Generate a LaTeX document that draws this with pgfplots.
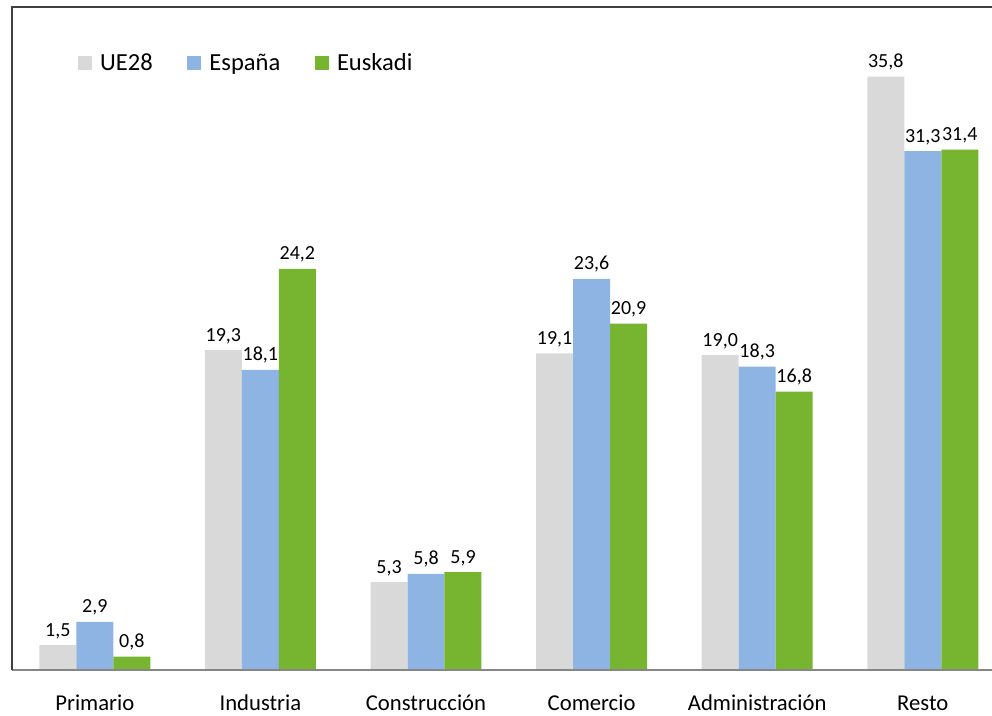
\documentclass[border=0pt]{standalone}
\usepackage{fontspec}
\setmainfont{Carlito}
\usepackage{pgfplots}
\pgfplotsset{compat=1.18}
\definecolor{cgray}{HTML}{D9D9D9}
\definecolor{cblue}{HTML}{8DB4E2}
\definecolor{cgreen}{HTML}{77B531}
\definecolor{cframe}{HTML}{404040}
\definecolor{caxis}{HTML}{868686}
\begin{document}
\begin{tikzpicture}
\begin{axis}[
  scale only axis, width=735pt, height=497.25pt,
  xmin=-0.5, xmax=5.418, ymin=0, ymax=40,
  clip=false,
  axis line style={draw=none},
  ytick=\empty,
  xtick={0,1,2,3,4,5},
  xticklabels={Primario,Industria,Construcción,Comercio,Administración,Resto},
  major tick length=0pt,
  xticklabel style={font=\fontsize{17}{20}\selectfont, inner sep=0pt, anchor=north, text height=12pt, text depth=3pt, yshift=-18.5pt},
  ybar, bar width=0.2234,
  /pgf/number format/use comma,
  /pgf/number format/fixed,
  /pgf/number format/fixed zerofill,
  /pgf/number format/precision=1,
  /pgf/number format/assume math mode=true,
  nodes near coords,
  nodes near coords style={font=\fontsize{15}{18}\selectfont, anchor=base, inner sep=0pt, yshift=6.75pt, text=black},
  legend style={at={(0.0673,0.9155)}, anchor=west, draw=none, fill=none, inner sep=0pt,
    font=\fontsize{18.4}{22}\selectfont, nodes={inner sep=0pt},
    /tikz/every odd column/.append style={column sep=6pt},
    /tikz/every even column/.append style={column sep=26pt}},
  legend columns=-1,
  legend cell align=left,
  legend image code/.code={\draw[#1,draw=none] (0pt,-5.25pt) rectangle (10.5pt,5.25pt);},
]
\addplot[fill=cgray, draw=none, bar shift=-0.2234] coordinates {(0,1.5) (1,19.3) (2,5.3) (3,19.1) (4,19.0) (5,35.8)};
\addplot[fill=cblue, draw=none, bar shift=0] coordinates {(0,2.9) (1,18.1) (2,5.8) (3,23.6) (4,18.3) (5,31.3)};
\addplot[fill=cgreen, draw=none, bar shift=0.2234] coordinates {(0,0.8) (1,24.2) (2,5.9) (3,20.9) (4,16.8) (5,31.4)};
\legend{UE28,España,Euskadi}
\draw[caxis, line width=0.8pt] (rel axis cs:0,0) -- (rel axis cs:1,0);
\draw[cframe, line width=1pt] (rel axis cs:0,0) -- (rel axis cs:0,1) -- (rel axis cs:1,1);
\coordinate (ll) at (rel axis cs:0,0);
\coordinate (ur) at (rel axis cs:1,1);
\end{axis}
\pgfresetboundingbox
\path ([shift={(-9pt,-34.5pt)}]ll) rectangle ([shift={(0pt,5.25pt)}]ur);
\end{tikzpicture}
\end{document}
